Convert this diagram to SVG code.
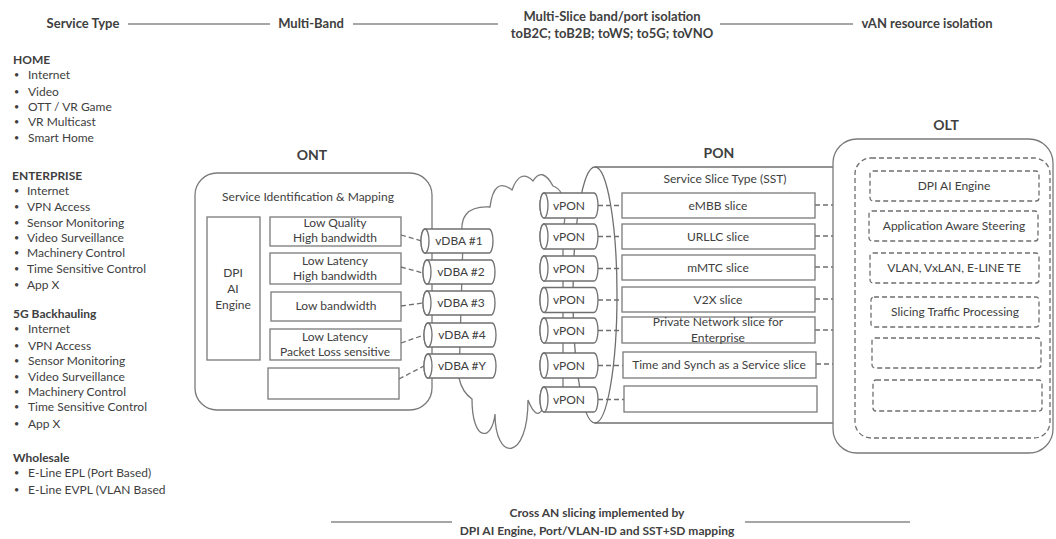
<svg xmlns="http://www.w3.org/2000/svg" xmlns:xlink="http://www.w3.org/1999/xlink" width="1056" height="539" viewBox="0 0 1056 539">
<style>
text{font-family:Lato,"Liberation Sans",sans-serif;fill:#404040;font-size:12px}
.b{font-weight:bold;font-size:12px}
.hd{font-weight:bold;font-size:13px}
.c{text-anchor:middle}
.h{font-weight:bold;font-size:14px}
.bu{font-size:9px}
.bx{fill:#fff;stroke:#7a7a7a;stroke-width:1.3}
.cyl{fill:#fff;stroke:#6f6f6f;stroke-width:1.3}
.dl{fill:none;stroke:#6f6f6f;stroke-width:1.3;stroke-dasharray:5 3}
.db{fill:#fff;stroke:#6f6f6f;stroke-width:1.3;stroke-dasharray:5 3}
.sep{stroke:#a6a6a6;stroke-width:2}
</style>
<defs>
<g id="cylD"><path class="cyl" d="M4,0 H68 A4,12 0 0 1 68,24 H4 A4,12 0 0 1 4,0 Z"/><ellipse class="cyl" cx="4" cy="12" rx="4" ry="12"/></g>
<g id="cylP"><path class="cyl" d="M4,0 H54 A4,12.5 0 0 1 54,25 H4 A4,12.5 0 0 1 4,0 Z"/><ellipse class="cyl" cx="4" cy="12.5" rx="4" ry="12.5"/></g>
</defs>
<rect width="1056" height="539" fill="#fff"/>

<g id="header">
<text class="hd c" x="83" y="28">Service Type</text>
<line class="sep" x1="128" y1="24" x2="270" y2="24"/>
<text class="hd c" x="311" y="28">Multi-Band</text>
<line class="sep" x1="353" y1="24" x2="498" y2="24"/>
<text class="hd c" x="612" y="21">Multi-Slice band/port isolation</text>
<text class="hd c" x="612" y="38">toB2C; toB2B; toWS; to5G; toVNO</text>
<line class="sep" x1="720" y1="24" x2="853" y2="24"/>
<text class="hd c" x="927" y="28">vAN resource isolation</text>
</g>

<g id="service-list">
<text class="b" x="13" y="64">HOME</text>
<text class="bu" x="14" y="78">•</text><text x="28" y="79">Internet</text>
<text class="bu" x="14" y="95">•</text><text x="28" y="96">Video</text>
<text class="bu" x="14" y="110">•</text><text x="28" y="111">OTT / VR Game</text>
<text class="bu" x="14" y="125">•</text><text x="28" y="126">VR Multicast</text>
<text class="bu" x="14" y="141">•</text><text x="28" y="142">Smart Home</text>
<text class="b" x="12" y="180">ENTERPRISE</text>
<text class="bu" x="14" y="194">•</text><text x="27" y="195">Internet</text>
<text class="bu" x="14" y="210">•</text><text x="27" y="211">VPN Access</text>
<text class="bu" x="14" y="226">•</text><text x="27" y="227">Sensor Monitoring</text>
<text class="bu" x="14" y="241">•</text><text x="27" y="242">Video Surveillance</text>
<text class="bu" x="14" y="256">•</text><text x="27" y="257">Machinery Control</text>
<text class="bu" x="14" y="272">•</text><text x="27" y="273">Time Sensitive Control</text>
<text class="bu" x="14" y="288">•</text><text x="27" y="289">App X</text>
<text class="b" x="13" y="318">5G Backhauling</text>
<text class="bu" x="14" y="332">•</text><text x="28" y="333">Internet</text>
<text class="bu" x="14" y="349">•</text><text x="28" y="350">VPN Access</text>
<text class="bu" x="14" y="364">•</text><text x="28" y="365">Sensor Monitoring</text>
<text class="bu" x="14" y="380">•</text><text x="28" y="381">Video Surveillance</text>
<text class="bu" x="14" y="395">•</text><text x="28" y="396">Machinery Control</text>
<text class="bu" x="14" y="410">•</text><text x="28" y="411">Time Sensitive Control</text>
<text class="bu" x="14" y="427">•</text><text x="28" y="428">App X</text>
<text class="b" x="13" y="462">Wholesale</text>
<text class="bu" x="14" y="476">•</text><text x="28" y="477">E-Line EPL (Port Based)</text>
<text class="bu" x="14" y="493">•</text><text x="28" y="494">E-Line EVPL (VLAN Based</text>
</g>

<g id="cloud">
<path fill="#fff" stroke="#7a7a7a" stroke-width="1.3" d="M463,240 Q456,205 490,207 Q494,176 512,190 Q520,168 533,181 Q542,166 553,186 Q570,192 563,232 L563,395 Q560,414 542,410 Q536,420 528,400 C528,462 495,462 495,414 C492,442 472,442 472,399 Q462,392 459,378 Z"/>
</g>

<g id="pon">
<text class="h c" x="719" y="158">PON</text>
<path fill="#fff" stroke="none" d="M595,167 H845 V423 H595 A22,128 0 0 1 595,167 Z"/>
<line x1="595" y1="167" x2="845" y2="167" stroke="#6f6f6f" stroke-width="1.3"/>
<line x1="595" y1="423" x2="845" y2="423" stroke="#6f6f6f" stroke-width="1.3"/>
<ellipse cx="595" cy="295" rx="22" ry="128" fill="none" stroke="#6f6f6f" stroke-width="1.3"/>
<text class="c" x="725" y="183">Service Slice Type (SST)</text>
</g>

<g id="ont">
<text class="h c" x="312" y="160">ONT</text>
<rect class="bx" x="195" y="173" width="237" height="237" rx="22"/>
<text class="c" x="308" y="201">Service Identification &amp; Mapping</text>
<rect class="bx" x="207" y="217" width="53" height="143"/>
<text class="c" x="233" y="277">DPI</text>
<text class="c" x="233" y="293">AI</text>
<text class="c" x="233" y="309">Engine</text>
<rect class="bx" x="270" y="217" width="131" height="29"/>
<text class="c" x="335" y="227">Low Quality</text>
<text class="c" x="335" y="242">High bandwidth</text>
<rect class="bx" x="270" y="253" width="131" height="31"/>
<text class="c" x="335" y="265">Low Latency</text>
<text class="c" x="335" y="280">High bandwidth</text>
<rect class="bx" x="271" y="292" width="130" height="29"/>
<text class="c" x="336" y="310">Low bandwidth</text>
<rect class="bx" x="270" y="329" width="131" height="31"/>
<text class="c" x="335" y="341">Low Latency</text>
<text class="c" x="335" y="356">Packet Loss sensitive</text>
<rect class="bx" x="268" y="368" width="131" height="31"/>
</g>

<g id="connectors">
<path class="dl" d="M401,235 L422,241"/>
<path class="dl" d="M401,267 L423,273"/>
<path class="dl" d="M401,306 L423,303"/>
<path class="dl" d="M401,343 L424,335"/>
<path class="dl" d="M399,379 L424,366"/>
<path class="dl" d="M598,205.5 H622"/>
<path class="dl" d="M598,236.5 H622"/>
<path class="dl" d="M598,268.5 H622"/>
<path class="dl" d="M598,300 H622"/>
<path class="dl" d="M598,330.5 H622"/>
<path class="dl" d="M598,365.5 H623"/>
<path class="dl" d="M598,399.5 H624"/>
<path class="dl" d="M815,205 H855"/>
<path class="dl" d="M815,236 H855"/>
<path class="dl" d="M815,267 H855"/>
<path class="dl" d="M815,299 H855"/>
<path class="dl" d="M815,330 H855"/>
<path class="dl" d="M816,364 H855"/>
</g>

<g id="vdba1"><use xlink:href="#cylD" x="421" y="229"/><text class="c" x="459" y="245">vDBA #1</text></g>
<g id="vdba2"><use xlink:href="#cylD" x="423" y="260"/><text class="c" x="461" y="276">vDBA #2</text></g>
<g id="vdba3"><use xlink:href="#cylD" x="423" y="291"/><text class="c" x="461" y="307">vDBA #3</text></g>
<g id="vdba4"><use xlink:href="#cylD" x="424" y="323"/><text class="c" x="462" y="339">vDBA #4</text></g>
<g id="vdbaY"><use xlink:href="#cylD" x="424" y="354"/><text class="c" x="462" y="370">vDBA #Y</text></g>

<g id="vpon1"><use xlink:href="#cylP" x="540" y="193"/><text class="c" x="569" y="209.5">vPON</text></g>
<g id="vpon2"><use xlink:href="#cylP" x="540" y="224"/><text class="c" x="569" y="240.5">vPON</text></g>
<g id="vpon3"><use xlink:href="#cylP" x="540" y="256"/><text class="c" x="569" y="272.5">vPON</text></g>
<g id="vpon4"><use xlink:href="#cylP" x="540" y="287.5"/><text class="c" x="569" y="304">vPON</text></g>
<g id="vpon5"><use xlink:href="#cylP" x="540" y="318"/><text class="c" x="569" y="334.5">vPON</text></g>
<g id="vpon6"><use xlink:href="#cylP" x="540" y="353"/><text class="c" x="569" y="369.5">vPON</text></g>
<g id="vpon7"><use xlink:href="#cylP" x="540" y="387"/><text class="c" x="569" y="403.5">vPON</text></g>

<g id="slice-embb"><rect class="bx" x="622" y="193" width="193" height="25"/><text class="c" x="718" y="210">eMBB slice</text></g>
<g id="slice-urllc"><rect class="bx" x="622" y="224" width="193" height="25"/><text class="c" x="718" y="241">URLLC slice</text></g>
<g id="slice-mmtc"><rect class="bx" x="622" y="255" width="193" height="25"/><text class="c" x="718" y="272">mMTC slice</text></g>
<g id="slice-v2x"><rect class="bx" x="622" y="287" width="193" height="25"/><text class="c" x="718" y="304">V2X slice</text></g>
<g id="slice-private"><rect class="bx" x="622" y="317" width="193" height="26"/><text class="c" x="718" y="326">Private Network slice for</text><text class="c" x="718" y="342">Enterprise</text></g>
<g id="slice-time"><rect class="bx" x="623" y="352" width="193" height="26"/><text class="c" x="719" y="369">Time and Synch as a Service slice</text></g>
<g id="slice-empty"><rect class="bx" x="624" y="386" width="193" height="26"/></g>

<g id="olt">
<text class="h c" x="946" y="130">OLT</text>
<rect class="bx" x="833" y="139" width="220" height="314" rx="24"/>
<rect class="db" x="855" y="158" width="195" height="280" rx="16"/>
<rect class="db" x="870" y="171" width="169" height="30" rx="3"/>
<text class="c" x="954" y="190">DPI AI Engine</text>
<rect class="db" x="869" y="211" width="169" height="30" rx="3"/>
<text class="c" x="954" y="230">Application Aware Steering</text>
<rect class="db" x="870" y="253" width="169" height="30" rx="3"/>
<text class="c" x="954" y="272">VLAN, VxLAN, E-LINE TE</text>
<rect class="db" x="871" y="297" width="168" height="30" rx="3"/>
<text class="c" x="955" y="316">Slicing Traffic Processing</text>
<rect class="db" x="872" y="338" width="169" height="30" rx="3"/>
<rect class="db" x="873" y="380" width="169" height="31" rx="3"/>
</g>

<g id="footer">
<line class="sep" x1="331" y1="522" x2="452" y2="522"/>
<text class="b c" x="597" y="517">Cross AN slicing implemented by</text>
<text class="b c" x="597" y="535">DPI AI Engine, Port/VLAN-ID and SST+SD mapping</text>
<line class="sep" x1="745" y1="522" x2="910" y2="522"/>
</g>
</svg>
